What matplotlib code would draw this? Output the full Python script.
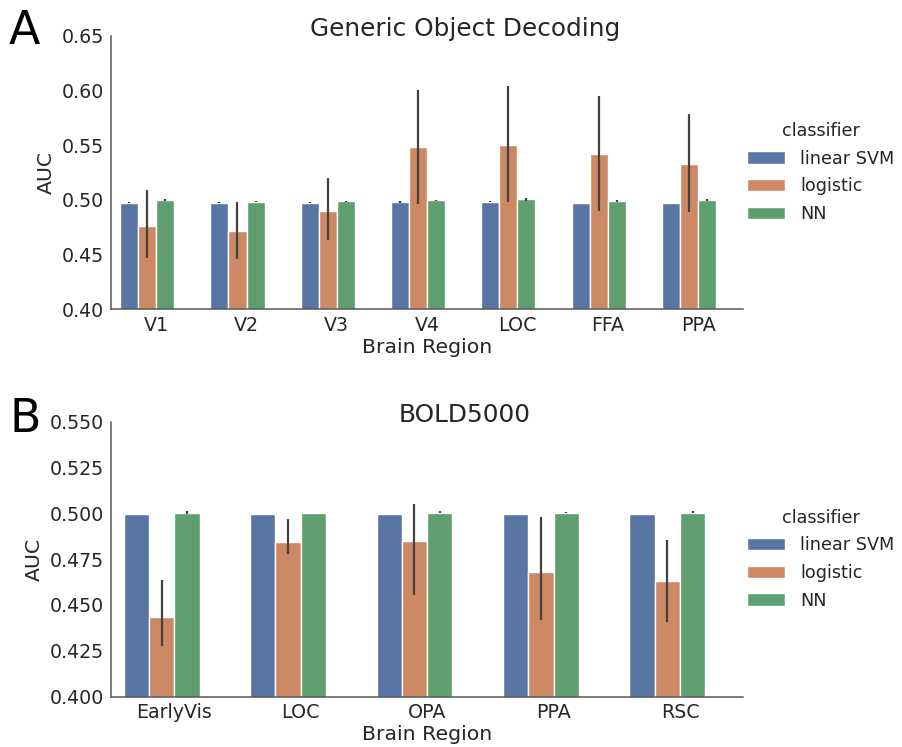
import numpy as np
import matplotlib
matplotlib.use("Agg")
import matplotlib.pyplot as plt
import seaborn as sns

sns.set_theme(style="white", context="notebook", font_scale=1.3,
              rc={"axes.edgecolor": ".35", "axes.linewidth": 1.1})
plt.rcParams['font.family'] = ['DejaVu Sans']

classifiers = ["linear SVM", "logistic", "NN"]

# Generic Object Decoding: mean AUC and CI bounds per region
god_regions = ["V1", "V2", "V3", "V4", "LOC", "FFA", "PPA"]
god_svm = [0.4974, 0.4974, 0.4974, 0.4980, 0.4983, 0.4973, 0.4973]
god_svm_lo = [0.4968, 0.4968, 0.4968, 0.4975, 0.4978, 0.4973, 0.4973]
god_svm_hi = [0.4982, 0.4982, 0.4982, 0.4986, 0.4988, 0.4973, 0.4973]
god_log = [0.4757, 0.4715, 0.4900, 0.5480, 0.5506, 0.5421, 0.5327]
god_log_lo = [0.4470, 0.4460, 0.4630, 0.4960, 0.4985, 0.4900, 0.4889]
god_log_hi = [0.5090, 0.4980, 0.5196, 0.6006, 0.6037, 0.5952, 0.5784]
god_nn = [0.4998, 0.4983, 0.4986, 0.4995, 0.5004, 0.4989, 0.4998]
god_nn_lo = [0.4992, 0.4977, 0.4980, 0.4988, 0.4994, 0.4982, 0.4990]
god_nn_hi = [0.5004, 0.4990, 0.4992, 0.5002, 0.5014, 0.4996, 0.5006]

# BOLD5000: mean AUC and CI bounds per region
bold_regions = ["EarlyVis", "LOC", "OPA", "PPA", "RSC"]
bold_svm = [0.4998, 0.4998, 0.4998, 0.4998, 0.4998]
bold_svm_lo = bold_svm
bold_svm_hi = bold_svm
bold_log = [0.4432, 0.4842, 0.4848, 0.4678, 0.4630]
bold_log_lo = [0.4273, 0.4776, 0.4556, 0.4419, 0.4408]
bold_log_hi = [0.4638, 0.4968, 0.5048, 0.4980, 0.4853]
bold_nn = [0.5002, 0.5002, 0.5004, 0.5002, 0.5004]
bold_nn_lo = [0.4998, 0.5002, 0.4999, 0.4999, 0.4999]
bold_nn_hi = [0.5010, 0.5002, 0.5010, 0.5006, 0.5011]

colors = sns.color_palette("deep", 3, desat=0.75)
err_kw = dict(ecolor=".26", elinewidth=1.6, capsize=0)


def grouped_bars(ax, regions, series, title, ylim, yticks, yfmt):
    x = np.arange(len(regions))
    # four hue slots of 0.2 each, only the first three are filled
    width = 0.2
    for i, (name, (mean, lo, hi)) in enumerate(zip(classifiers, series)):
        mean = np.array(mean)
        yerr = np.vstack([mean - np.array(lo), np.array(hi) - mean])
        ax.bar(x - 0.3 + i * width, mean, width, color=colors[i],
               edgecolor="white", linewidth=1, label=name,
               yerr=yerr, error_kw=err_kw)
    ax.set_xticks(x)
    ax.set_xticklabels(regions)
    ax.set_xlim(-0.5, len(regions) - 0.5)
    ax.set_ylim(*ylim)
    ax.set_yticks(yticks)
    ax.set_yticklabels([yfmt.format(t) for t in yticks])
    ax.set_xlabel("Brain Region", fontsize=14.7, labelpad=2)
    ax.set_ylabel("AUC", fontsize=14.7)
    ax.set_title(title, fontsize=17.8, pad=0, x=0.56)
    ax.tick_params(length=0, pad=5, labelsize=13.7)
    sns.despine(ax=ax)
    ax.legend(title="classifier", loc="center left",
              bbox_to_anchor=(1.0, 0.5), frameon=False,
              borderaxespad=0.1, borderpad=0.1,
              handlelength=2.15, handleheight=0.7, handletextpad=0.9,
              labelspacing=0.55, fontsize=12.7, title_fontsize=12.7)


fig = plt.figure(figsize=(9.03, 7.47), dpi=100)
ax1 = fig.add_axes([0.123, 0.586, 0.700, 0.366])
ax2 = fig.add_axes([0.123, 0.0676, 0.700, 0.368])

grouped_bars(ax1, god_regions,
             [(god_svm, god_svm_lo, god_svm_hi),
              (god_log, god_log_lo, god_log_hi),
              (god_nn, god_nn_lo, god_nn_hi)],
             "Generic Object Decoding", (0.40, 0.65),
             [0.40, 0.45, 0.50, 0.55, 0.60, 0.65], "{:.2f}")

grouped_bars(ax2, bold_regions,
             [(bold_svm, bold_svm_lo, bold_svm_hi),
              (bold_log, bold_log_lo, bold_log_hi),
              (bold_nn, bold_nn_lo, bold_nn_hi)],
             "BOLD5000", (0.40, 0.55),
             [0.400, 0.425, 0.450, 0.475, 0.500, 0.525, 0.550], "{:.3f}")

fig.text(0.010, 0.941, "A", fontsize=33, color="black", va="baseline")
fig.text(0.010, 0.422, "B", fontsize=33, color="black", va="baseline")

fig.savefig("out.png", dpi=100)
